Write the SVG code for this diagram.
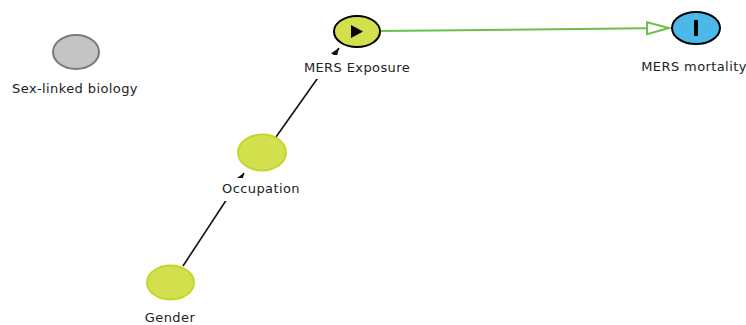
<svg xmlns="http://www.w3.org/2000/svg" width="746" height="325" viewBox="0 0 746 325">
<style>
  .lbl { font-family: "DejaVu Sans", "Liberation Sans", sans-serif; font-size: 13px; letter-spacing: 0.4px; fill: #222; text-anchor: middle; }
  .bg { fill: #fff; }
  .green { fill: #d2e04e; stroke: #c2d62c; stroke-width: 2; }
  .greenb { fill: #d2e04e; stroke: #000; stroke-width: 2; }
  .grey { fill: #c4c4c4; stroke: #7a7a7a; stroke-width: 2; }
  .blue { fill: #4cb8e8; stroke: #000; stroke-width: 2; }
  .edge { stroke: #111; stroke-width: 1.6; fill: none; }
  .causal { stroke: #6cbf4c; stroke-width: 2; fill: none; }
</style>
<defs>
  <marker id="arr" markerUnits="userSpaceOnUse" markerWidth="10" markerHeight="8" refX="9" refY="3.5" orient="auto">
    <path d="M0,0 L9,3.5 L0,7 z" fill="#111"/>
  </marker>
  <marker id="hollow" markerUnits="userSpaceOnUse" markerWidth="26" markerHeight="16" refX="23" refY="7" orient="auto">
    <path d="M1,1 L23,7 L1,13 z" fill="#fff" stroke="#6cbf4c" stroke-width="2"/>
  </marker>
</defs>
<rect width="746" height="325" fill="#fff"/>
<g id="connectors">
  <line class="edge" x1="183" y1="266" x2="244" y2="173" marker-end="url(#arr)"/>
  <line class="edge" x1="276" y1="137" x2="339" y2="48" marker-end="url(#arr)"/>
  <line class="causal" x1="381" y1="31" x2="669" y2="28" marker-end="url(#hollow)"/>
</g>
<g id="sex-linked-biology">
  <ellipse class="grey" cx="76" cy="52" rx="23" ry="17"/>
  <text class="lbl" x="75" y="93">Sex-linked biology</text>
</g>
<g id="mers-exposure">
  <ellipse class="greenb" cx="357" cy="31.5" rx="23" ry="15.5"/>
  <path d="M351,25 L363,31.5 L351,38 z" fill="#000"/>
  <rect class="bg" x="300" y="55" width="114" height="24"/>
  <text class="lbl" x="357" y="72">MERS Exposure</text>
</g>
<g id="mers-mortality">
  <ellipse class="blue" cx="696" cy="28" rx="24" ry="16"/>
  <rect x="694" y="20" width="4" height="16" fill="#000"/>
  <text class="lbl" x="694" y="71">MERS mortality</text>
</g>
<g id="occupation">
  <ellipse class="green" cx="262" cy="152.5" rx="24" ry="18"/>
  <rect class="bg" x="218" y="178" width="88" height="23"/>
  <text class="lbl" x="261" y="193">Occupation</text>
</g>
<g id="gender">
  <ellipse class="green" cx="170.5" cy="282.5" rx="23.5" ry="17"/>
  <text class="lbl" x="170" y="322">Gender</text>
</g>
</svg>
